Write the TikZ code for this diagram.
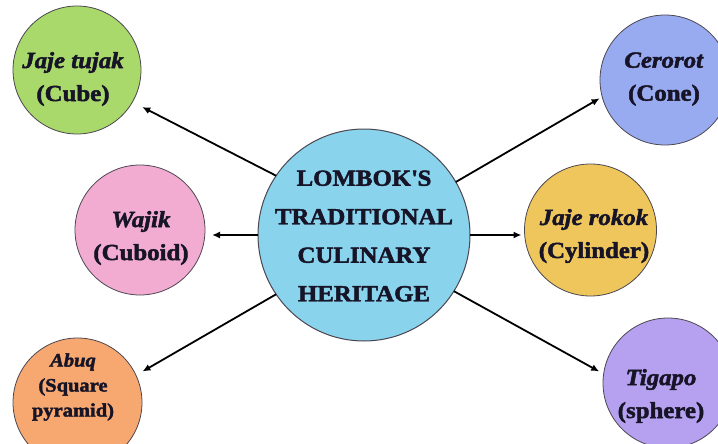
\documentclass[tikz,border=0pt]{standalone}
\usepackage{fontspec}
\setmainfont{Liberation Serif}[FakeStretch=1.08, BoldFeatures={FakeBold=2}, BoldItalicFeatures={FakeBold=2}]
\usetikzlibrary{arrows.meta}
\definecolor{cgreen}{RGB}{169,217,107}
\definecolor{cpink}{RGB}{242,172,210}
\definecolor{corange}{RGB}{246,168,112}
\definecolor{cblue}{RGB}{152,170,240}
\definecolor{cyellow}{RGB}{238,198,92}
\definecolor{cpurple}{RGB}{182,160,240}
\definecolor{ccenter}{RGB}{137,211,237}
\definecolor{cedge}{RGB}{75,70,80}
\definecolor{ctext}{RGB}{22,20,38}
\tikzset{
  bubble/.style={circle, draw=cedge, line width=0.8pt, inner sep=0pt, outer sep=0pt},
  outertext/.style={align=center, text=ctext, font=\fontsize{23}{33}\selectfont\bfseries, inner sep=0pt},
  smalltext/.style={align=center, text=ctext, font=\fontsize{19}{25}\selectfont\bfseries, inner sep=0pt},
  centertext/.style={align=center, text=ctext, font=\fontsize{23}{38.5}\selectfont\bfseries, inner sep=0pt},
  arr/.style={line width=1.8pt, -{Latex[length=8pt,width=7pt]}, draw=black}
}
\begin{document}
\begin{tikzpicture}[x=1pt,y=-1pt]
\useasboundingbox (0,0) rectangle (718,444);
\clip (0,0) rectangle (718,444);
% bubbles
\node[bubble, fill=ccenter, minimum size=212pt, line width=1pt] (hub) at (364,235) {};
\node[bubble, fill=cgreen, minimum size=128pt] (c1) at (77,70) {};
\node[bubble, fill=cpink, minimum size=130pt] (c2) at (140,230) {};
\node[bubble, fill=corange, minimum size=129pt] (c3) at (77.5,402.5) {};
\node[bubble, fill=cblue, minimum size=130pt] (c4) at (665,80) {};
\node[bubble, fill=cyellow, minimum size=132pt] (c5) at (590.5,230) {};
\node[bubble, fill=cpurple, minimum size=130pt] (c6) at (668,383) {};
% texts
\node[centertext] (th) at (364,236) {LOMBOK\textquotesingle S\\TRADITIONAL\\CULINARY\\HERITAGE};
\node[outertext] (t1) at (73,79) {\textit{Jaje tujak}\\(Cube)};
\node[outertext] (t2) at (141,238) {\textit{Wajik}\\(Cuboid)};
\node[smalltext] (t3) at (73,387) {\textit{Abuq}\\(Square\\pyramid)};
\node[outertext] (t4) at (664,79) {\textit{Cerorot}\\(Cone)};
\node[outertext] (t5) at (594,236) {\textit{Jaje rokok}\\(Cylinder)};
\node[outertext] (t6) at (661,396) {\textit{Tigapo}\\(sphere)};
% connectors
\draw[arr, shorten >=11pt] (hub.146.9) -- (c1.-30);
\draw[arr, shorten >=7pt] (hub.west) -- (hub.west -| c2.east);
\draw[arr, shorten >=7.5pt] (hub.214.3) -- (c3.25);
\draw[arr, shorten >=3pt] (hub.30.6) -- (c4.195);
\draw[arr, shorten >=3pt] (hub.east) -- (hub.east -| c5.west);
\draw[arr, shorten >=5pt] (hub.-32.5) -- (c6.172);
\end{tikzpicture}
\end{document}
